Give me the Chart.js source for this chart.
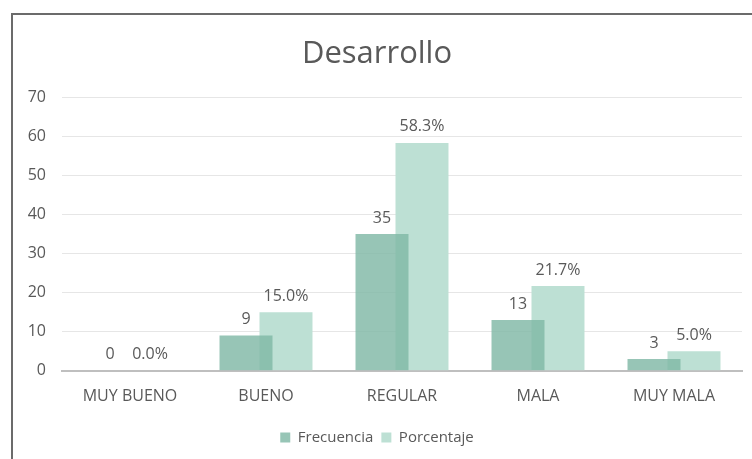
<!DOCTYPE html>
<html>
<head>
<meta charset="utf-8">
<script src="https://cdn.jsdelivr.net/npm/chart.js@4"></script>
<style>
  html, body { margin: 0; padding: 0; background: #fff; overflow: hidden; }
  #frame {
    position: absolute; left: 11px; top: 13px; width: 760px; height: 470px;
    border: 2px solid #6b6b6b; box-sizing: border-box;
  }
  #wrap { position: absolute; left: 12px; top: 14px; width: 752px; height: 446px; }
</style>
</head>
<body>
<div id="frame"></div>
<div id="wrap"><canvas id="desarrolloChart"></canvas></div>
<script>
const categories = ["MUY BUENO", "BUENO", "REGULAR", "MALA", "MUY MALA"];
const frecuencia = [0, 9, 35, 13, 3];
const porcentaje = [0.0, 15.0, 58.3, 21.7, 5.0];
const frecuenciaLabels = ["0", "9", "35", "13", "3"];
const porcentajeLabels = ["0.0%", "15.0%", "58.3%", "21.7%", "5.0%"];

const FONT = "'Open Sans', sans-serif";
const GREY = "#595959";

// draws the value above each bar
const valueLabels = {
  id: "valueLabels",
  afterDatasetsDraw(chart) {
    const ctx = chart.ctx;
    const texts = [frecuenciaLabels, porcentajeLabels];
    ctx.save();
    ctx.font = "16px " + FONT;
    ctx.fillStyle = GREY;
    ctx.textAlign = "center";
    ctx.textBaseline = "bottom";
    chart.data.datasets.forEach((ds, i) => {
      const meta = chart.getDatasetMeta(i);
      meta.data.forEach((bar, j) => {
        ctx.fillText(texts[i][j], bar.x, bar.y - 8);
      });
    });
    ctx.restore();
  }
};

new Chart(document.getElementById("desarrolloChart"), {
  type: "bar",
  data: {
    labels: categories,
    datasets: [
      {
        label: "Frecuencia",
        data: frecuencia,
        backgroundColor: "rgba(128,184,166,0.82)",
        categoryPercentage: 0.588,
        barPercentage: 1.325,
      },
      {
        label: "Porcentaje",
        data: porcentaje,
        backgroundColor: "rgba(189,224,212,1)",
        categoryPercentage: 0.588,
        barPercentage: 1.325,
      },
    ],
  },
  options: {
    responsive: true,
    maintainAspectRatio: false,
    animation: false,
    layout: { padding: { left: 0, right: 22, top: 18, bottom: 5 } },
    plugins: {
      title: {
        display: true,
        text: "Desarrollo",
        color: GREY,
        font: { family: FONT, size: 31, weight: "normal" },
        padding: { top: 4, bottom: 24 },
      },
      legend: {
        position: "bottom",
        labels: {
          color: GREY,
          boxWidth: 10,
          boxHeight: 10,
          padding: 8,
          font: { family: FONT, size: 15 },
        },
      },
      tooltip: { enabled: false },
    },
    scales: {
      x: {
        grid: { display: false, drawTicks: false },
        border: { color: "#bfbfbf", width: 2 },
        ticks: { color: GREY, padding: 16, font: { family: FONT, size: 16 } },
      },
      y: {
        min: 0,
        max: 70,
        grid: { color: "#e6e6e6", lineWidth: 1, drawTicks: false },
        border: { display: false },
        ticks: { stepSize: 10, color: GREY, padding: 16, font: { family: FONT, size: 16 } },
        afterFit: (axis) => { axis.width = 50; },
      },
    },
  },
  plugins: [valueLabels],
});
</script>
</body>
</html>
